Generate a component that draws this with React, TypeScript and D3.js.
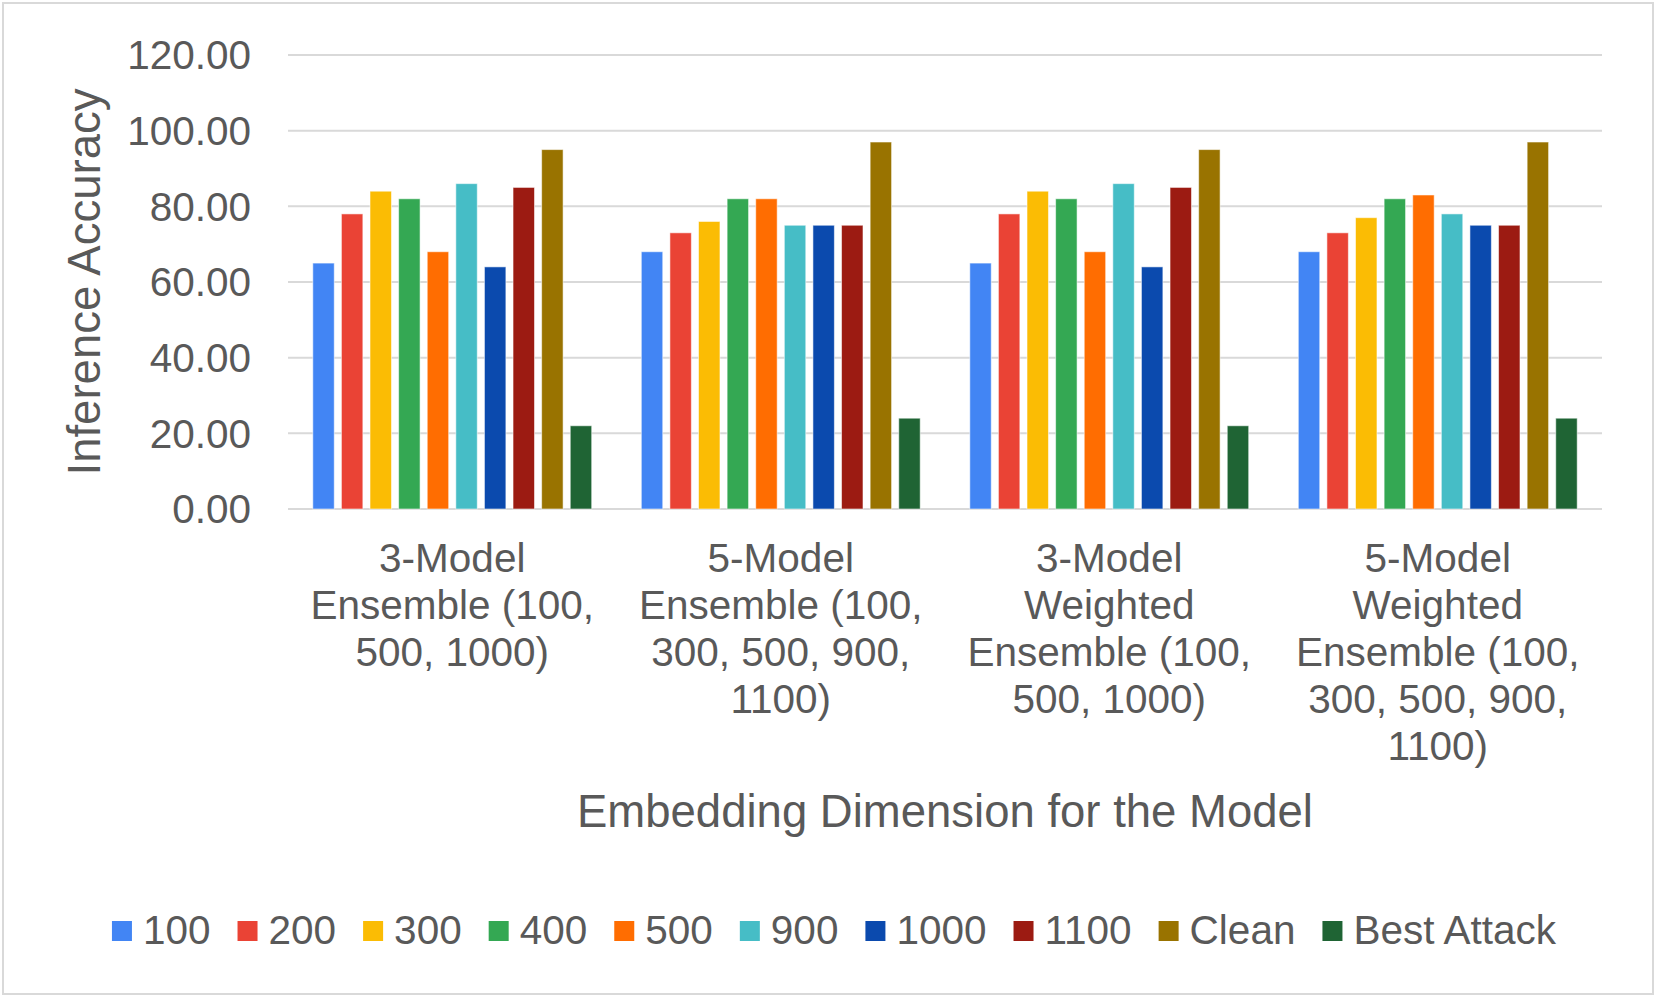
import { useRef, useEffect } from 'react';
import * as d3 from 'd3';

const categories = [
    ['3-Model', 'Ensemble (100,', '500, 1000)'],
    ['5-Model', 'Ensemble (100,', '300, 500, 900,', '1100)'],
    ['3-Model', 'Weighted', 'Ensemble (100,', '500, 1000)'],
    ['5-Model', 'Weighted', 'Ensemble (100,', '300, 500, 900,', '1100)'],
];

const seriesNames = ['100', '200', '300', '400', '500', '900', '1000', '1100', 'Clean', 'Best Attack'];
const seriesColors = ['#4285f4', '#ea4335', '#fbbc04', '#34a853', '#ff6d01', '#46bdc6', '#0b4aae', '#9c1b12', '#997300', '#1f6434'];

// one array per category, in series order
const ensemble3 = [65, 78, 84, 82, 68, 86, 64, 85, 95, 22];
const ensemble5 = [68, 73, 76, 82, 82, 75, 75, 75, 97, 24];
const weighted3 = [65, 78, 84, 82, 68, 86, 64, 85, 95, 22];
const weighted5 = [68, 73, 77, 82, 83, 78, 75, 75, 97, 24];

const yTicks = [0, 20, 40, 60, 80, 100, 120];

const groupValues = [ensemble3, ensemble5, weighted3, weighted5];

export default function App() {
    const svgRef = useRef<SVGSVGElement>(null);

    useEffect(() => {
        document.body.style.margin = '0';
        if (!svgRef.current) return;

        const width = 1659;
        const height = 1003;
        const plot = { left: 288, right: 1602, top: 55, bottom: 509 };
        const font = 'Liberation Sans, Arial, sans-serif';
        const textColor = '#595959';

        const svg = d3.select(svgRef.current)
            .attr('width', width)
            .attr('height', height)
            .attr('font-family', font);
        svg.selectAll('*').remove();

        // Border
        svg.append('rect')
            .attr('x', 3)
            .attr('y', 3)
            .attr('width', 1650)
            .attr('height', 991)
            .attr('fill', '#fff')
            .attr('stroke', '#d9d9d9')
            .attr('stroke-width', 2);

        const keys = categories.map((_, i) => String(i));

        const yScale = d3.scaleLinear()
            .domain([0, 120])
            .range([plot.bottom, plot.top]);

        const x0 = d3.scaleBand()
            .domain(keys)
            .range([plot.left, plot.right])
            .paddingInner(0.151)
            .paddingOuter(0.0755);

        const x1 = d3.scaleBand()
            .domain(seriesNames)
            .range([0, x0.bandwidth()])
            .paddingInner(0.25);

        // Grid lines
        svg.append('g')
            .selectAll('line')
            .data(yTicks)
            .enter()
            .append('line')
            .attr('x1', plot.left)
            .attr('x2', plot.right)
            .attr('y1', d => yScale(d))
            .attr('y2', d => yScale(d))
            .attr('stroke', '#d9d9d9')
            .attr('stroke-width', 2);

        // Y tick labels
        svg.append('g')
            .selectAll('text')
            .data(yTicks)
            .enter()
            .append('text')
            .attr('x', 251)
            .attr('y', d => yScale(d))
            .attr('dy', '0.35em')
            .attr('text-anchor', 'end')
            .attr('fill', textColor)
            .attr('font-size', '40.5px')
            .text(d => d.toFixed(2));

        // Bars
        const groups = svg.append('g')
            .selectAll('g')
            .data(groupValues)
            .enter()
            .append('g')
            .attr('transform', (_, i) => `translate(${x0(String(i))},0)`);

        groups.selectAll('rect')
            .data(vals => vals.map((v, j) => ({ key: seriesNames[j], value: v, color: seriesColors[j] })))
            .enter()
            .append('rect')
            .attr('x', d => x1(d.key) as number)
            .attr('y', d => yScale(d.value))
            .attr('width', x1.bandwidth())
            .attr('height', d => yScale(0) - yScale(d.value))
            .attr('fill', d => d.color)
            .attr('stroke', '#ffffff')
            .attr('stroke-opacity', 0.55)
            .attr('stroke-width', 1);

        // X tick labels (wrapped)
        const xLabels = svg.append('g')
            .selectAll('text')
            .data(categories)
            .enter()
            .append('text')
            .attr('text-anchor', 'middle')
            .attr('fill', textColor)
            .attr('font-size', '40.5px')
            .attr('transform', (_, i) => `translate(${(x0(String(i)) as number) + x0.bandwidth() / 2},572)`);

        xLabels.selectAll('tspan')
            .data(lines => lines)
            .enter()
            .append('tspan')
            .attr('x', 0)
            .attr('y', (_, i) => i * 47)
            .text(d => d);

        // Axis titles
        svg.append('text')
            .attr('x', (plot.left + plot.right) / 2)
            .attr('y', 827)
            .attr('text-anchor', 'middle')
            .attr('fill', textColor)
            .attr('font-size', '45.5px')
            .text('Embedding Dimension for the Model');

        svg.append('text')
            .attr('transform', `translate(100,${(plot.top + plot.bottom) / 2}) rotate(-90)`)
            .attr('text-anchor', 'middle')
            .attr('fill', textColor)
            .attr('font-size', '45.5px')
            .text('Inference Accuracy');

        // Legend
        const legend = svg.append('g');
        let cursor = 0;
        seriesNames.forEach((name, i) => {
            const item = legend.append('g').attr('transform', `translate(${cursor},0)`);
            item.append('rect')
                .attr('x', 0)
                .attr('y', 921)
                .attr('width', 20)
                .attr('height', 20)
                .attr('fill', seriesColors[i]);
            const t = item.append('text')
                .attr('x', 31)
                .attr('y', 944)
                .attr('fill', textColor)
                .attr('font-size', '40.5px')
                .text(name);
            const len = (t.node() as SVGTextElement).getComputedTextLength();
            cursor += 31 + len + 27;
        });
        const legendWidth = cursor - 27;
        legend.attr('transform', `translate(${834 - legendWidth / 2},0)`);
    }, []);

    return <svg ref={svgRef} style={{ display: 'block' }} />;
}
